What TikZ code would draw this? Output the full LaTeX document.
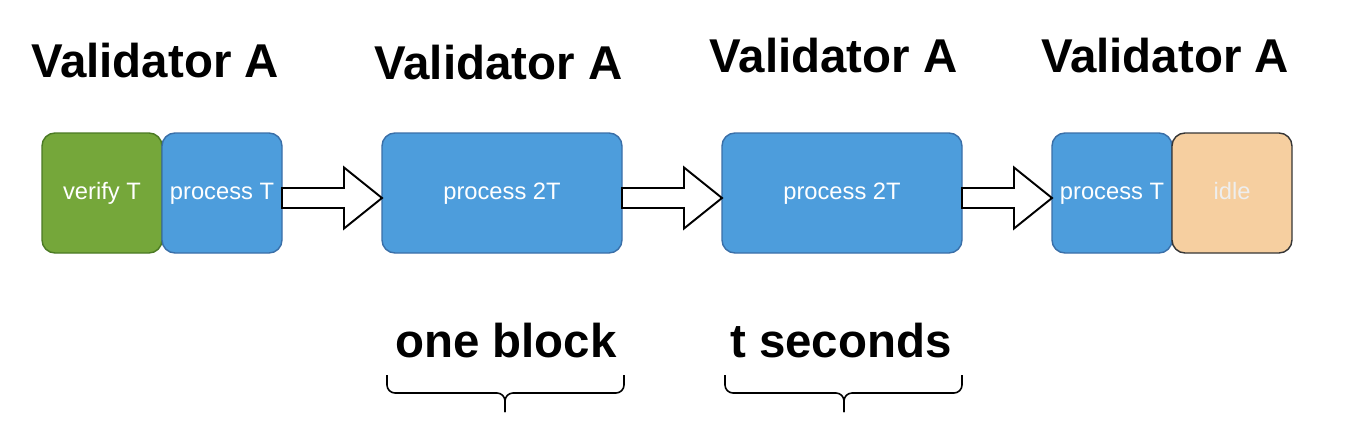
\documentclass[tikz,border=0pt]{standalone}
\usepackage{fontspec}
\setmainfont{Liberation Sans}
\usetikzlibrary{positioning, calc}
\definecolor{verifybg}{HTML}{75A73A}
\definecolor{verifyline}{HTML}{4B7A24}
\definecolor{procbg}{HTML}{4D9DDC}
\definecolor{procline}{HTML}{3A6FA8}
\definecolor{idlebg}{HTML}{F6CFA0}
\definecolor{idleline}{HTML}{363636}
\definecolor{idletext}{HTML}{EEEEEE}
\tikzset{
  stagebox/.style={rounded corners=0.26cm, minimum width=2.4cm, minimum height=2.4cm,
                   inner sep=0pt, outer sep=0pt, line width=0.8pt, text=white,
                   text height=1.4ex, text depth=0pt,
                   font=\fontsize{13.5}{16}\selectfont},
  verifybox/.style={stagebox, fill=verifybg, draw=verifyline},
  procbox/.style={stagebox, fill=procbg, draw=procline},
  widebox/.style={procbox, minimum width=4.8cm},
  idlebox/.style={stagebox, fill=idlebg, draw=idleline, text=idletext},
  valtitle/.style={font=\fontsize{27}{31}\selectfont\bfseries, anchor=base},
  bigarr/.style={draw=black, fill=white, line width=1.1pt, line join=miter},
  brc/.style={line width=0.9pt, rounded corners=0.16cm},
}
% block arrow between two boxes
\newcommand{\blockarrow}[2]{%
  \draw[bigarr] ($(#1.east)+(0,0.1)$) -- ($(#2.west)+(-0.76,0.1)$)
    -- ($(#2.west)+(-0.76,0.51)$) -- ($(#2.west)+(0,-0.1)$)
    -- ($(#2.west)+(-0.76,-0.71)$) -- ($(#2.west)+(-0.76,-0.3)$)
    -- ($(#1.east)+(0,-0.3)$) -- cycle;}
% curly brace: left end, right end, tip
\newcommand{\curlybrace}[3]{%
  \draw[brc] (#1) -- ++(0,-0.36) -- ($(#3)+(0,0.38)$) -- (#3);
  \draw[brc] (#2) -- ++(0,-0.36) -- ($(#3)+(0,0.38)$) -- (#3);}

\begin{document}
\begin{tikzpicture}
  \useasboundingbox (0,0) rectangle (27.12,-8.92);

  % the stages
  \node[verifybox] (v1) at (2.04,-3.86) {verify T};
  \node[procbox, right=0pt of v1]   (p1) {process T};
  \node[widebox, right=2cm of p1]   (p2) {process 2T};
  \node[widebox, right=2cm of p2]   (p3) {process 2T};
  \node[procbox, right=1.8cm of p3] (p4) {process T};
  \node[idlebox, right=0pt of p4]   (idle) {idle};

  \blockarrow{p1}{p2}
  \blockarrow{p2}{p3}
  \blockarrow{p3}{p4}

  % titles
  \node[valtitle] (t1) at (3.10,-1.54) {Validator A};
  \node[valtitle] (t2) at (9.97,-1.58) {Validator A};
  \node[valtitle] (t3) at (16.67,-1.46) {Validator A};
  \node[valtitle] (t4) at (23.30,-1.46) {Validator A};

  % spans
  \node[valtitle] (blk) at (10.12,-7.14) {one block};
  \node[valtitle] (sec) at (16.82,-7.14) {t seconds};
  \coordinate (b1l) at (7.74,-7.50);
  \coordinate (b1r) at (12.48,-7.50);
  \coordinate (b1t) at (10.10,-8.24);
  \coordinate (b2l) at (14.50,-7.50);
  \coordinate (b2r) at (19.24,-7.50);
  \coordinate (b2t) at (16.88,-8.24);
  \curlybrace{b1l}{b1r}{b1t}
  \curlybrace{b2l}{b2r}{b2t}
\end{tikzpicture}
\end{document}
